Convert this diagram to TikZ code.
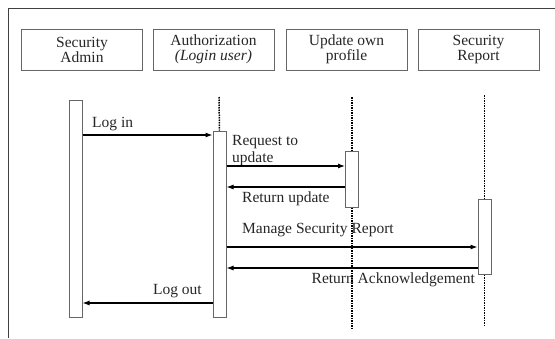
\documentclass[tikz,border=0pt]{standalone}
\usepackage{fontspec}
\setmainfont{Liberation Serif}
\usetikzlibrary{arrows.meta}

\begin{document}
\begin{tikzpicture}[x=1pt, y=-1pt, >={Latex[length=7pt,width=5pt]},
    head/.style={draw=black!60, line width=0.9pt, minimum width=121pt, minimum height=41pt,
      align=center, inner sep=0pt, font=\fontsize{15.5}{15}\selectfont},
    bar/.style={draw=black!60, fill=white, line width=1pt, minimum width=13pt, inner sep=0pt},
    life/.style={densely dotted, line width=1.5pt},
    msg/.style={->, line width=1.1pt},
    lbl/.style={inner sep=0pt, align=left, text=black!85, font=\fontsize{15.5}{17}\selectfont}]

  %% Background
  \useasboundingbox (0,0) rectangle (555,338);

  % Frame
  \draw[black!75, line width=1pt] (8,338) -- (8,8) -- (555,8);

  % Object boxes
  \node[head, text=black!85] (admin)  at (82,49.5)    {Security\\Admin};
  \node[head, text=black!85] (auth)   at (213.5,49.5) {Authorization\\\textit{(Login user)}};
  \node[head, text=black!85] (update) at (346.5,49.5) {Update own\\profile};
  \node[head, text=black!85] (report) at (478.5,49.5) {Security\\Report};

  % Lifeline heads
  \coordinate (authTop)   at (219,97);
  \coordinate (updateTop) at (352,97);
  \coordinate (updateEnd) at (352,329);
  \coordinate (reportTop) at (484.5,95);
  \coordinate (reportEnd) at (484.5,326);

  % Activation bars
  \node[bar, minimum height=217pt] (actA) at (75.5,208.5) {};
  \node[bar, minimum height=186pt] (actB) at (219.5,224) {};
  \node[bar, minimum height=56pt]  (actC) at (352,179) {};
  \node[bar, minimum height=75pt]  (actD) at (484.5,236.5) {};

  % Messages labels
  \node[lbl, anchor=west] (lin)  at (92,124)  {Log in};
  \node[lbl, anchor=north west] (req) at (232,135) {Request to\\update};
  \node[lbl, anchor=west] (ret)  at (242,199) {Return update};
  \node[lbl, anchor=west] (man)  at (242,230) {Manage Security Report};
  \node[lbl, anchor=east] (ack)  at (475,280) {Return Acknowledgement};
  \node[lbl, anchor=east] (lout) at (202,291) {Log out};

  % Lifelines
  \draw[life] (authTop) -- (actB.north);
  \draw[life] (updateTop) -- (actC.north);
  \draw[life] (actC.south) -- (updateEnd);
  \draw[life] (reportTop) -- (actD.north);
  \draw[life] (actD.south) -- (reportEnd);

  % Messages
  \draw[msg] (actA.east |- 0,135) -- (actB.west |- 0,135);
  \draw[msg] (actB.east |- 0,166) -- (actC.west |- 0,166);
  \draw[msg] (actC.west |- 0,187) -- (actB.east |- 0,187);
  \draw[msg] (actB.east |- 0,247) -- (actD.west |- 0,247);
  \draw[msg] (actD.west |- 0,268) -- (actB.east |- 0,268);
  \draw[msg] (actB.west |- 0,303) -- (actA.east |- 0,303);

\end{tikzpicture}
\end{document}
